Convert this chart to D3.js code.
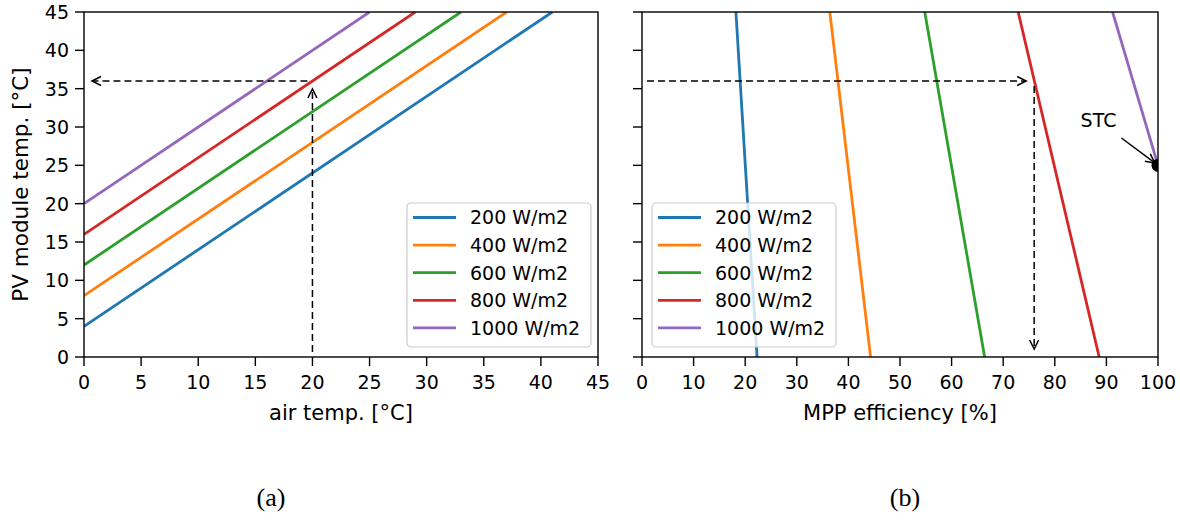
<!DOCTYPE html>
<html>
<head>
<meta charset="utf-8">
<script src="https://cdn.jsdelivr.net/npm/d3@7"></script>
<style>
  html, body { margin: 0; padding: 0; background: #fff; }
  svg { display: block; }
  text { fill: #000; }
  .sans { font-family: "DejaVu Sans", sans-serif; }
  .serif { font-family: "Liberation Serif", "Times New Roman", serif; }
</style>
</head>
<body>
<svg id="chart" width="1180" height="524"></svg>
<script>
// ---------------- data ----------------
const seriesLabels = ["200 W/m2", "400 W/m2", "600 W/m2", "800 W/m2", "1000 W/m2"];
const seriesColors = ["#1f77b4", "#ff7f0e", "#2ca02c", "#d62728", "#9467bd"];

// panel (a): module temp at air temp 0, and air temp where module temp reaches 45
const moduleTempAtAir0 = [4, 8, 12, 16, 20];
const airTempAtModule45 = [41, 37, 33, 29, 25];

// panel (b): [efficiency %, module temp] end points of each line
const effSeries = [
  [[22.3, 0], [18.2, 45]],
  [[44.3, 0], [36.4, 45]],
  [[66.4, 0], [54.8, 45]],
  [[88.6, 0], [72.9, 45]],
  [[100, 25], [91.2, 45]]
];

const airTicks = [0, 5, 10, 15, 20, 25, 30, 35, 40, 45];
const tempTicks = [0, 5, 10, 15, 20, 25, 30, 35, 40, 45];
const effTicks = [0, 10, 20, 30, 40, 50, 60, 70, 80, 90, 100];

// reading arrows
const arrowsA = [{ from: [20, 0], to: [20, 36] }, { from: [20, 36], to: [0, 36] }];
const arrowsB = [{ from: [0, 36], to: [76, 36] }, { from: [76, 36], to: [76, 0] }];
const stcPoint = [100, 25];
const stcTextPos = [85, 30];
const stcLabel = "STC";

const xLabelA = "air temp. [°C]";
const xLabelB = "MPP efficiency [%]";
const yLabel = "PV module temp. [°C]";
const captions = ["(a)", "(b)"];

// ---------------- layout ----------------
const svg = d3.select("#chart");
const yTop = 12, yBottom = 357;
const panelA = { x0: 84, x1: 598 };
const panelB = { x0: 642, x1: 1158 };
const tickLen = 9;
const tickFont = 19;

const y = d3.scaleLinear().domain([0, 45]).range([yBottom, yTop]);
const xA = d3.scaleLinear().domain([0, 45]).range([panelA.x0, panelA.x1]);
const xB = d3.scaleLinear().domain([0, 100]).range([panelB.x0, panelB.x1]);

const defs = svg.append("defs");
defs.append("clipPath").attr("id", "clipA").append("rect")
  .attr("x", panelA.x0).attr("y", yTop).attr("width", panelA.x1 - panelA.x0).attr("height", yBottom - yTop);
defs.append("clipPath").attr("id", "clipB").append("rect")
  .attr("x", panelB.x0).attr("y", yTop).attr("width", panelB.x1 - panelB.x0).attr("height", yBottom - yTop);

function drawArrow(g, p0, p1, opts) {
  const dx = p1[0] - p0[0], dy = p1[1] - p0[1];
  const L = Math.hypot(dx, dy);
  const ux = dx / L, uy = dy / L;
  const s = [p0[0] + ux * opts.shrinkA, p0[1] + uy * opts.shrinkA];
  const e = [p1[0] - ux * opts.shrinkB, p1[1] - uy * opts.shrinkB];
  g.append("line")
    .attr("x1", s[0]).attr("y1", s[1]).attr("x2", e[0]).attr("y2", e[1])
    .attr("stroke", "#000").attr("stroke-width", opts.width)
    .attr("stroke-dasharray", opts.dash || null);
  const hl = 9, hw = 4.5;
  const bx = e[0] - ux * hl, by = e[1] - uy * hl;
  const px = -uy, py = ux;
  g.append("path")
    .attr("d", `M${bx + px * hw},${by + py * hw}L${e[0]},${e[1]}L${bx - px * hw},${by - py * hw}`)
    .attr("fill", "none").attr("stroke", "#000").attr("stroke-width", opts.width)
    .attr("stroke-linejoin", "miter");
}

function drawFrame(g, x, p, showYLabels, xTicks) {
  const xt = g.append("g");
  xTicks.forEach(t => {
    xt.append("line").attr("x1", x(t)).attr("x2", x(t)).attr("y1", yBottom).attr("y2", yBottom + tickLen)
      .attr("stroke", "#000").attr("stroke-width", 1.4);
    xt.append("text").attr("class", "sans").attr("x", x(t)).attr("y", yBottom + 32).attr("text-anchor", "middle")
      .attr("font-size", tickFont).text(t);
  });
  const yt = g.append("g");
  tempTicks.forEach(t => {
    yt.append("line").attr("x1", p.x0 - tickLen).attr("x2", p.x0).attr("y1", y(t)).attr("y2", y(t))
      .attr("stroke", "#000").attr("stroke-width", 1.4);
    if (showYLabels) {
      yt.append("text").attr("class", "sans").attr("x", p.x0 - tickLen - 6).attr("y", y(t)).attr("dy", "0.36em")
        .attr("text-anchor", "end").attr("font-size", tickFont).text(t);
    }
  });
  g.append("rect").attr("x", p.x0).attr("y", yTop).attr("width", p.x1 - p.x0).attr("height", yBottom - yTop)
    .attr("fill", "none").attr("stroke", "#000").attr("stroke-width", 1.4);
}

function drawLegend(g, bx, by) {
  const w = 184, h = 144;
  g.append("rect").attr("x", bx).attr("y", by).attr("width", w).attr("height", h)
    .attr("rx", 4).attr("ry", 4)
    .attr("fill", "#fff").attr("fill-opacity", 0.8)
    .attr("stroke", "#cccccc").attr("stroke-width", 1.2);
  seriesLabels.forEach((lab, i) => {
    const ry = by + 14.5 + i * 27.6;
    g.append("line").attr("x1", bx + 6).attr("x2", bx + 49).attr("y1", ry).attr("y2", ry)
      .attr("stroke", seriesColors[i]).attr("stroke-width", 2.8);
    g.append("text").attr("class", "sans").attr("x", bx + 63).attr("y", ry).attr("dy", "0.36em")
      .attr("font-size", tickFont).text(lab);
  });
}

// ---------------- panel (a) ----------------
const gA = svg.append("g");
const linesA = gA.append("g").attr("clip-path", "url(#clipA)");
const lineA = d3.line().x(d => xA(d[0])).y(d => y(d[1]));
seriesLabels.forEach((lab, i) => {
  linesA.append("path")
    .attr("d", lineA([[0, moduleTempAtAir0[i]], [airTempAtModule45[i], 45]]))
    .attr("fill", "none").attr("stroke", seriesColors[i]).attr("stroke-width", 2.8);
});
arrowsA.forEach(a => drawArrow(gA, [xA(a.from[0]), y(a.from[1])], [xA(a.to[0]), y(a.to[1])],
  { shrinkA: 5, shrinkB: 8, width: 1.5, dash: "7,4" }));
drawFrame(gA, xA, panelA, true, airTicks);
drawLegend(gA, panelA.x1 - 7 - 184, yBottom - 10 - 144);
gA.append("text").attr("class", "sans").attr("x", (panelA.x0 + panelA.x1) / 2).attr("y", 420).attr("text-anchor", "middle")
  .attr("font-size", 21).text(xLabelA);
gA.append("text").attr("class", "sans").attr("transform", `translate(28,${(yTop + yBottom) / 2}) rotate(-90)`)
  .attr("text-anchor", "middle").attr("font-size", 21.5).text(yLabel);

// ---------------- panel (b) ----------------
const gB = svg.append("g");
const linesB = gB.append("g").attr("clip-path", "url(#clipB)");
const lineB = d3.line().x(d => xB(d[0])).y(d => y(d[1]));
effSeries.forEach((pts, i) => {
  linesB.append("path").attr("d", lineB(pts))
    .attr("fill", "none").attr("stroke", seriesColors[i]).attr("stroke-width", 2.8);
});
linesB.append("circle").attr("cx", xB(stcPoint[0])).attr("cy", y(stcPoint[1])).attr("r", 6.5).attr("fill", "#000");
arrowsB.forEach(a => drawArrow(gB, [xB(a.from[0]), y(a.from[1])], [xB(a.to[0]), y(a.to[1])],
  { shrinkA: 5, shrinkB: 8, width: 1.5, dash: "7,4" }));
const stcT = gB.append("text").attr("class", "sans").attr("x", xB(stcTextPos[0])).attr("y", y(stcTextPos[1]))
  .attr("font-size", 19).text(stcLabel);
const tw = stcT.node().getComputedTextLength();
drawArrow(gB, [xB(stcTextPos[0]) + tw + 5, y(stcTextPos[1]) + 11], [xB(stcPoint[0]), y(stcPoint[1])],
  { shrinkA: 0, shrinkB: 4, width: 1.5 });
drawFrame(gB, xB, panelB, false, effTicks);
drawLegend(gB, panelB.x0 + 10, yBottom - 10 - 144);
gB.append("text").attr("class", "sans").attr("x", (panelB.x0 + panelB.x1) / 2).attr("y", 420).attr("text-anchor", "middle")
  .attr("font-size", 21).text(xLabelB);

// captions
svg.append("text").attr("class", "serif").attr("x", 271).attr("y", 506).attr("text-anchor", "middle")
  .attr("font-size", 26).text(captions[0]);
svg.append("text").attr("class", "serif").attr("x", 905).attr("y", 506).attr("text-anchor", "middle")
  .attr("font-size", 26).text(captions[1]);
</script>
</body>
</html>
